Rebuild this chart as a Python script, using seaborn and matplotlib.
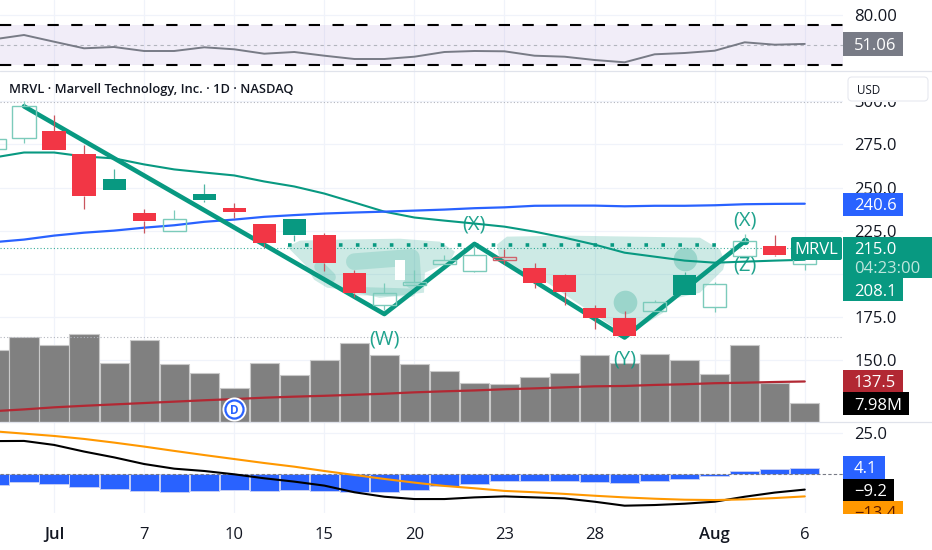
import numpy as np
import pandas as pd
import matplotlib
matplotlib.use("Agg")
import matplotlib.pyplot as plt
from matplotlib.patches import Polygon, Rectangle, FancyBboxPatch
import seaborn as sns

# bar index -1 is the candle cut off by the left edge
bar_idx = list(range(-1, 27))

opens = [272.1, 278.5, 282.6, 269.2, 254.8, 235.3, 225.0, 246.1, 238.0, 229.1, 231.8, 222.5, 200.6, 182.0,
         193.2, 205.6, 201.3, 207.7, 203.1, 199.2, 180.2, 174.4, 178.5, 199.4, 180.6, 210.5, 216.3, 205.6]
closes = [277.9, 297.3, 271.7, 245.0, 248.8, 230.8, 231.8, 243.0, 235.6, 217.6, 222.3, 206.4, 189.0, 189.1,
          195.3, 208.1, 211.0, 209.7, 194.4, 189.4, 174.6, 163.8, 183.7, 187.8, 194.0, 219.0, 211.0, 215.0]
highs = [279.0, 300.0, 292.3, 274.6, 260.5, 237.6, 236.8, 251.9, 241.1, 229.1, 232.0, 223.7, 202.3, 194.8,
         202.3, 210.9, 215.8, 214.5, 206.2, 200.0, 181.8, 178.1, 184.9, 201.0, 195.0, 222.9, 222.7, 216.0]
lows = [272.1, 275.8, 271.7, 237.6, 248.8, 223.4, 225.0, 241.5, 232.2, 215.7, 219.2, 201.7, 186.6, 179.1,
        193.2, 205.6, 201.0, 205.6, 191.7, 182.0, 168.0, 163.8, 178.5, 187.8, 178.0, 210.0, 210.5, 202.3]

ma_green = [267.4, 270.3, 270.3, 268.0, 266.9, 263.4, 260.5, 258.7, 257.0, 253.5, 250.6, 246.5, 241.3, 236.0,
            232.6, 230.8, 229.1, 227.3, 224.4, 220.9, 216.9, 212.2, 209.9, 207.6, 206.4, 207.0, 207.6, 208.1]
ma_blue = [218.3, 219.8, 222.1, 223.8, 225.0, 226.7, 228.1, 230.1, 231.4, 233.0, 234.0, 234.9, 235.5, 236.0,
           236.6, 237.2, 238.0, 238.5, 239.4, 239.5, 239.5, 239.1, 239.4, 239.4, 239.7, 240.3, 240.5, 240.6]
ma_red = [120.3, 121.3, 122.5, 123.4, 124.2, 125.0, 125.8, 126.6, 127.3, 128.1, 128.7, 129.2, 129.8, 130.4,
          131.2, 131.8, 132.3, 133.0, 133.5, 134.1, 134.7, 134.9, 135.5, 135.9, 136.5, 136.8, 137.2, 137.5]

volumes = [30.7, 36.4, 32.7, 37.3, 25.1, 35.0, 24.8, 20.8, 14.6, 25.1, 20.2, 26.2, 33.8, 28.7,
           24.5, 21.6, 16.5, 16.2, 19.3, 21.0, 28.5, 25.1, 29.0, 26.2, 20.5, 33.0, 16.5, 7.98]

rsi = [55.7, 60.0, 53.3, 46.7, 48.0, 44.0, 44.0, 47.7, 45.7, 41.3, 43.0, 39.3, 36.0, 36.0,
       38.3, 43.0, 44.0, 43.7, 39.3, 38.3, 35.0, 32.7, 40.7, 42.0, 44.3, 52.7, 50.3, 51.06]

macd_hist = [-6.2, -4.8, -5.8, -7.6, -9.0, -10.2, -10.6, -9.8, -9.4, -9.8, -9.4, -10.0, -10.4, -10.6,
             -9.4, -7.0, -5.8, -4.0, -3.8, -3.8, -4.6, -5.0, -3.8, -2.6, -1.0, 2.0, 3.4, 4.1]
macd_line = [20.0, 20.1, 17.7, 13.7, 10.2, 6.2, 3.4, 2.0, 0.0, -2.4, -4.4, -6.8, -10.8, -13.5,
             -14.9, -14.9, -13.9, -13.3, -13.9, -14.5, -16.5, -18.9, -18.5, -17.7, -16.5, -13.5, -11.0, -9.2]
macd_signal = [25.9, 24.5, 23.1, 21.3, 19.1, 16.7, 14.1, 11.6, 9.2, 6.8, 4.6, 2.0, -0.4, -2.8,
               -5.0, -7.0, -8.4, -10.0, -10.8, -11.8, -12.9, -13.9, -14.7, -15.3, -15.5, -15.1, -14.3, -13.3]

# wave drawing on the price pane
wave_idx = [0, 12, 15, 20, 24]
wave_price = [297.1, 176.6, 217.3, 163.0, 218.8]
wave_names = ["(W)", "(X)", "(Y)", "(X)", "(Z)"]
wave_name_idx = [12, 15, 20, 24, 24]
wave_name_price = [162.0, 228.5, 150.0, 231.0, 205.0]

neck_idx = [8.8, 23.2]
neck_price = 216.5

blob1_idx = [8.76, 9.19, 10.52, 12.52, 13.85, 14.35, 14.19, 13.35, 13.32, 11.85, 10.69, 10.09, 9.66, 9.36]
blob1_price = [215.7, 219.2, 219.8, 220.3, 218.6, 212.8, 207.0, 200.6, 189.0, 186.0, 190.7, 191.9, 196.5, 205.2]
blob2_idx = [15.75, 16.08, 18.08, 22.51, 23.18, 23.34, 23.28, 22.51, 21.51, 21.28, 20.75, 20.41, 19.61, 18.61, 17.28, 16.52, 15.85]
blob2_price = [216.9, 221.5, 222.1, 220.9, 214.0, 206.4, 202.3, 189.0, 184.9, 177.3, 171.5, 168.6, 169.2, 180.8, 196.5, 201.2, 206.4]
stroke_main_idx = [11.0, 12.9, 12.95]
stroke_main_price = [207.0, 209.5, 196.0]
stroke_low_idx = [10.9, 12.9]
stroke_low_price = [190.0, 189.0]
stroke_left_idx = [9.85, 10.2]
stroke_left_price = [204.0, 198.0]
hole_idx = [12.35, 12.68]
hole_price = [196.5, 208.1]
dot_idx = [20.0, 22.0]
dot_price = [183.6, 208.7]

tick_idx = [1, 4, 7, 10, 13, 16, 19, 23, 26]
tick_labels = ["Jul", "7", "10", "15", "20", "23", "28", "Aug", "6"]
price_ticks = [150, 175, 200, 225, 250, 275, 300]
price_tick_labels = ["150.0", "175.0", "", "225.0", "250.0", "275.0", "300.0"]

GREEN = "#089981"
RED = "#f23645"
BLUE = "#2962ff"
GRID = "#f0f3fa"
TEXT = "#131722"
AXIS_SIZE = 12

W, H, AXIS_X = 932, 550, 843
PER_BAR = 30.03
X_MIN = -24 / PER_BAR
X_MAX = (AXIS_X - 24) / PER_BAR


def make_pane(fig, top, bottom, ylim, zorder):
    ax = fig.add_axes([0, 1 - bottom / H, AXIS_X / W, (bottom - top) / H], zorder=zorder)
    ax.set_xlim(X_MIN, X_MAX)
    ax.set_ylim(*ylim)
    ax.patch.set_alpha(0)
    sns.despine(ax=ax, left=True, bottom=True)
    ax.yaxis.tick_right()
    ax.set_xticks(tick_idx)
    ax.set_xticklabels([])
    ax.set_yticks([])
    ax.tick_params(length=0, labelsize=AXIS_SIZE, labelcolor=TEXT, pad=8)
    return ax


def line(ax, y, color, lw, **kw):
    sns.lineplot(x=bar_idx, y=y, ax=ax, color=color, linewidth=lw, estimator=None, sort=False, **kw)
    ax.set_xlabel("")
    ax.set_ylabel("")


def tag(ax, x0, x1, y0, y1, color, label=None, tcolor="white", ty=None):
    ax.add_patch(Rectangle((x0, y0), x1 - x0, y1 - y0, facecolor=color, edgecolor="none"))
    if label:
        ax.text(x0 + 11, ty if ty else (y0 + y1) / 2, label, color=tcolor, fontsize=AXIS_SIZE,
                va="center_baseline", ha="left")


sns.set_theme(style="white")
plt.rcParams["font.family"] = ["Open Sans", "DejaVu Sans"]

fig = plt.figure(figsize=(W / 100, H / 100), dpi=100, facecolor="white")

# panes: rsi on top, price + volume in the middle, macd at the bottom
price_lim = (114.0, 317.4)
ax_rsi = make_pane(fig, 0, 71.3, (23.7, 95), 2)
ax_bg = make_pane(fig, 71.3, 422, price_lim, 0)
ax_vol = make_pane(fig, 71.3, 422, (0, 149.4), 1)
ax_price = make_pane(fig, 71.3, 422, price_lim, 2)
ax_macd = make_pane(fig, 422, 513, (-23.3, 31.5), 2)

for ax in [ax_rsi, ax_bg, ax_macd]:
    ax.grid(True, color=GRID, linewidth=0.9)
ax_vol.grid(False)
ax_price.grid(False)

# rsi
ax_rsi.set_yticks([80])
ax_rsi.set_yticklabels(["80.00"])
ax_rsi.axhspan(30, 70, color="#7e57c2", alpha=0.1, linewidth=0)
ax_rsi.axhline(70, color="black", linewidth=1.5, linestyle=(0, (5.4, 6.0)))
ax_rsi.axhline(30, color="black", linewidth=1.5, linestyle=(0, (5.4, 6.0)))
ax_rsi.axhline(50, color="#b2b5be", linewidth=0.8, linestyle=(0, (3, 3)))
line(ax_rsi, rsi, "#787b86", 1.4)

# price grid sits behind the volume bars
ax_bg.set_yticks(price_ticks)
ax_bg.set_yticklabels(price_tick_labels)

# volume
sns.barplot(x=bar_idx, y=volumes, ax=ax_vol, native_scale=True, color="#808080", saturation=1,
            width=0.97, edgecolor="#c9c9c9", linewidth=0.8)
ax_vol.set_xlim(X_MIN, X_MAX)
ax_vol.set_ylim(0, 149.4)
ax_vol.set_yticks([])
ax_vol.set_xticks(tick_idx)
ax_vol.set_xticklabels([])
ax_vol.set_xlabel("")
ax_vol.set_ylabel("")

# price level lines
ax_price.axhline(299.8, color="#b2b5be", linewidth=0.8, linestyle=(0, (1, 2)))
ax_price.axhline(163.2, color="#b2b5be", linewidth=0.8, linestyle=(0, (1, 2)))
ax_price.axhline(closes[-1], color=GREEN, linewidth=0.8, linestyle=(0, (1, 2)), alpha=0.8)

# hand-drawn highlight shapes
for xs, ys in [(blob1_idx, blob1_price), (blob2_idx, blob2_price)]:
    ax_price.add_patch(Polygon(np.column_stack([xs, ys]), closed=True, facecolor=GREEN, edgecolor=GREEN,
                               alpha=0.2, linewidth=0, zorder=1))
for xs, ys, lw in [(stroke_main_idx, stroke_main_price, 12), (stroke_low_idx, stroke_low_price, 6),
                   (stroke_left_idx, stroke_left_price, 8)]:
    ax_price.plot(xs, ys, color=GREEN, alpha=0.17, linewidth=lw, solid_capstyle="round",
                  solid_joinstyle="round", zorder=1.1)
ax_price.add_patch(Rectangle((hole_idx[0], hole_price[0]), hole_idx[1] - hole_idx[0], hole_price[1] - hole_price[0],
                             facecolor="white", edgecolor="none", zorder=1.15))
ax_price.scatter(dot_idx, dot_price, s=290, color=GREEN, alpha=0.25, linewidths=0, zorder=1.2)

line(ax_price, ma_green, GREEN, 1.5, zorder=2)
line(ax_price, ma_blue, BLUE, 1.6, zorder=2)
line(ax_price, ma_red, "#b22833", 1.6, zorder=2)

sns.lineplot(x=wave_idx, y=wave_price, ax=ax_price, color=GREEN, linewidth=3.3, estimator=None, sort=False, zorder=3)
ax_price.scatter(wave_idx[-1], wave_price[-1], s=28, color=GREEN, linewidths=0, zorder=3)
ax_price.set_xlabel("")
ax_price.set_ylabel("")
ax_price.plot(neck_idx, [neck_price, neck_price], color=GREEN, linewidth=2.6,
              linestyle=(0, (1, 3.7)), zorder=3)

# candles
candles = pd.DataFrame({"i": bar_idx, "o": opens, "c": closes, "h": highs, "l": lows})
candles["prev"] = candles["c"].shift(1).fillna(candles["o"])
BODY = 0.77
for row in candles.itertuples():
    up = row.c >= row.prev
    col = GREEN if up else RED
    hollow = row.c > row.o
    body_lo, body_hi = min(row.o, row.c), max(row.o, row.c)
    wick_col = "#7ccbbb" if (up and hollow) else ("#4fb5a2" if up else "#c9565f")
    ax_price.vlines(row.i, row.l, body_lo, color=wick_col, linewidth=0.9, zorder=4)
    ax_price.vlines(row.i, body_hi, row.h, color=wick_col, linewidth=0.9, zorder=4)
    if hollow:
        edge = "#7ccbbb" if up else "#d0636c"
        ax_price.add_patch(Rectangle((row.i - BODY / 2, body_lo), BODY, body_hi - body_lo,
                                     facecolor="none", edgecolor=edge, linewidth=1.0, zorder=4))
    else:
        ax_price.add_patch(Rectangle((row.i - BODY / 2, body_lo), BODY, body_hi - body_lo,
                                     facecolor=col, edgecolor="none", zorder=4))

for name, xi, yp in zip(wave_names, wave_name_idx, wave_name_price):
    ax_price.text(xi, yp, name, color=GREEN, fontsize=14.5, ha="center", va="center", alpha=0.9, zorder=5)

# dividend badge
ax_price.scatter([7], [121.5], s=300, color="white", linewidths=0, zorder=5)
ax_price.scatter([7], [121.5], s=170, facecolor="white", edgecolor=BLUE, linewidths=1.6, zorder=6)
ax_price.text(7, 121.5, "D", color=BLUE, fontsize=8.5, fontweight="bold", ha="center", va="center_baseline", zorder=7)

# macd
ax_macd.set_yticks([25])
ax_macd.set_yticklabels(["25.0"])
sns.barplot(x=bar_idx, y=macd_hist, ax=ax_macd, native_scale=True, color="#2962ff", saturation=1,
            width=0.97, edgecolor="#c3ccf5", linewidth=0.7)
ax_macd.set_xlim(X_MIN, X_MAX)
ax_macd.set_ylim(-23.3, 31.5)
ax_macd.set_xticks(tick_idx)
ax_macd.set_xticklabels(tick_labels)
for lbl, name in zip(ax_macd.get_xticklabels(), tick_labels):
    lbl.set_fontweight("semibold" if name in ("Jul", "Aug") else "normal")
ax_macd.tick_params(axis="x", pad=10)
ax_macd.axhline(0, color="#787b86", linewidth=0.8, linestyle=(0, (3, 2)))
line(ax_macd, macd_line, "black", 1.5)
line(ax_macd, macd_signal, "#ff9800", 1.5)

# overlay in pixels for everything on the price scale strip
ov = fig.add_axes([0, 0, 1, 1], zorder=10)
ov.set_xlim(0, W)
ov.set_ylim(H, 0)
ov.set_axis_off()
ov.patch.set_alpha(0)

# pane dividers
ov.plot([0, W], [71.3, 71.3], color="#e0e3eb", linewidth=0.9)
ov.plot([0, W], [422, 422], color="#e0e3eb", linewidth=0.9)

ov.text(9, 88, "MRVL · Marvell Technology, Inc. · 1D · NASDAQ", color=TEXT, fontsize=9.3,
        fontweight="semibold", va="center_baseline", ha="left")

ov.add_patch(Rectangle((843, 72), 89, 29.5, facecolor="white", edgecolor="none"))
ov.add_patch(FancyBboxPatch((849, 78), 78, 22, boxstyle="round,pad=1,rounding_size=4",
                            facecolor="white", edgecolor="#e6e8ef", linewidth=0.8))
ov.text(857, 88.5, "USD", color=TEXT, fontsize=8.4, va="center_baseline")

tag(ov, 843, 903, 32, 55.7, "#787b86", "51.06")
tag(ov, 843, 903, 192.7, 216, BLUE, "240.6")
tag(ov, 843, 932, 236.7, 278, GREEN)
ov.text(854, 248, "215.0", color="white", fontsize=AXIS_SIZE, va="center_baseline")
ov.text(854, 267, "04:23:00", color="#bfe6dd", fontsize=AXIS_SIZE, va="center_baseline")
tag(ov, 843, 903, 278, 301, GREEN, "208.1")
ov.add_patch(FancyBboxPatch((792, 238), 49, 21, boxstyle="round,pad=1,rounding_size=2",
                            facecolor=GREEN, edgecolor="none"))
ov.text(816.5, 248.5, "MRVL", color="white", fontsize=AXIS_SIZE, ha="center", va="center_baseline")
tag(ov, 843, 903, 369.5, 392, "#b22833", "137.5")
tag(ov, 843, 908.5, 392, 415, "black", "7.98M")
tag(ov, 843, 885, 456, 478.7, BLUE, "4.1")
tag(ov, 843, 894, 478.7, 501, "black", "−9.2")
tag(ov, 843, 903, 501, 514, "#ff9800", "−13.4", tcolor="#5a1a00", ty=512)
ov.add_patch(Rectangle((843, 514), 89, 36, facecolor="white", edgecolor="none", zorder=5))

fig.savefig("out.png", dpi=100)
